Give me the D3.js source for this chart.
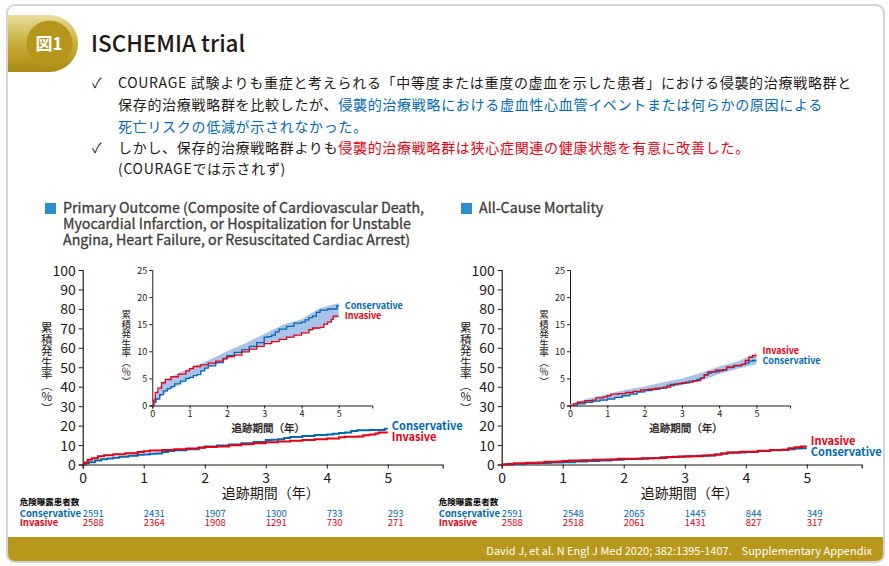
<!DOCTYPE html>
<html><head><meta charset="utf-8">
<script src="https://cdn.jsdelivr.net/npm/d3@7"></script>
<style>
body{margin:0;background:#fff;}
svg{display:block;font-family:'Noto Sans CJK JP','Noto Sans',sans-serif;}
</style></head>
<body>
<svg id="c" width="889" height="566"></svg>
<script>
// ---------- DATA ----------
const yearTicks = [0,1,2,3,4,5];
const mainYTicks = [0,10,20,30,40,50,60,70,80,90,100];
const insetYTicks = [0,5,10,15,20,25];

const primaryConservative = [[0,0],[0.05,0.6],[0.1,1.2],[0.2,2.0],[0.3,2.7],[0.4,3.1],[0.5,3.5],[0.6,4.0],[0.75,4.5],[0.9,5.0],[1.0,5.2],[1.1,5.5],[1.2,5.7],[1.3,6.4],[1.4,6.9],[1.5,7.3],[1.7,7.9],[1.9,8.7],[2.0,9.2],[2.2,9.8],[2.4,10.3],[2.6,10.9],[2.8,11.6],[3.0,12.6],[3.1,12.7],[3.2,13.0],[3.3,13.6],[3.4,14.1],[3.6,14.6],[3.8,15.2],[4.0,15.4],[4.1,15.8],[4.2,16.2],[4.3,16.5],[4.4,17.2],[4.5,17.6],[4.7,17.8],[4.9,17.8],[4.95,18.4],[5.0,18.4]];
const primaryInvasive = [[0,0],[0.03,1.0],[0.08,2.4],[0.15,3.2],[0.25,4.2],[0.35,4.8],[0.5,5.3],[0.7,5.8],[0.9,6.4],[1.0,6.8],[1.1,7.2],[1.3,7.5],[1.5,7.8],[1.7,8.2],[1.9,8.6],[2.0,9.0],[2.2,9.3],[2.4,9.9],[2.6,10.4],[2.8,10.9],[3.0,11.4],[3.2,11.8],[3.4,12.2],[3.6,12.6],[3.8,13.0],[4.0,13.4],[4.2,14.0],[4.3,14.3],[4.5,14.4],[4.6,15.0],[4.7,15.4],[4.8,15.9],[4.85,16.5],[5.0,16.5]];
const primaryBandT    = [0,0.25,0.5,1,1.5,2,2.5,3,3.5,4,4.5,5];
const primaryBandLow  = [0,1.8,3.1,4.9,6.9,8.5,9.9,11.2,12.1,13.2,14.3,16.4];
const primaryBandHigh = [0.6,4.0,5.3,6.9,8.3,10.0,11.5,13.2,14.9,15.9,18.0,18.9];

const mortalityConservative = [[0,0],[0.2,0.3],[0.4,0.6],[0.6,0.8],[0.8,1.0],[1.0,1.2],[1.2,1.5],[1.4,1.8],[1.6,2.1],[1.8,2.5],[2.0,2.8],[2.2,3.0],[2.4,3.2],[2.6,3.7],[2.8,4.0],[3.0,4.2],[3.2,4.5],[3.4,4.8],[3.5,5.1],[3.6,5.6],[3.7,6.0],[3.8,6.2],[4.0,6.4],[4.1,6.6],[4.2,7.0],[4.4,7.3],[4.6,7.6],[4.7,7.8],[4.8,8.2],[4.9,8.3],[5.0,8.3]];
const mortalityInvasive = [[0,0],[0.1,0.3],[0.2,0.6],[0.4,0.9],[0.6,1.0],[0.7,1.4],[0.9,1.6],[1.0,1.8],[1.1,2.1],[1.3,2.2],[1.5,2.4],[1.7,2.6],[1.9,2.9],[2.1,3.0],[2.3,3.2],[2.5,3.4],[2.7,3.9],[2.9,4.1],[3.1,4.3],[3.3,4.6],[3.5,5.1],[3.6,5.7],[3.7,6.2],[3.9,6.5],[4.1,6.6],[4.2,7.1],[4.4,7.4],[4.6,7.6],[4.7,8.3],[4.8,8.9],[4.9,9.2],[5.0,9.2]];
const mortalityBandT    = [0,0.5,1,1.5,2,2.5,3,3.5,4,4.5,5];
const mortalityBandLow  = [0,0.4,1.0,1.8,2.4,3.0,3.8,4.5,5.8,6.8,7.6];
const mortalityBandHigh = [0.3,1.3,2.1,2.9,3.5,4.3,5.0,6.0,7.2,8.1,9.8];

const atRiskPrimaryConservative = [2591,2431,1907,1300,733,293];
const atRiskPrimaryInvasive     = [2588,2364,1908,1291,730,271];
const atRiskMortalityConservative = [2591,2548,2065,1445,844,349];
const atRiskMortalityInvasive     = [2588,2518,2061,1431,827,317];

// ---------- STYLE ----------
const BLUE = '#0068b7', RED = '#e60012', INK = '#231815', GOLD = '#b8981a', BAND = '#a9c3e8';
const svg = d3.select('#c');

// frame
svg.append('rect').attr('x',7).attr('y',5).attr('width',877).attr('height',557).attr('rx',8)
  .attr('fill','#fff').attr('stroke','#d4d4d4').attr('stroke-width',2);
// footer
svg.append('path').attr('d','M8,537 H883 V554 Q883,561 876,561 H15 Q8,561 8,554 Z').attr('fill',GOLD);
svg.append('text').attr('x',872).attr('y',555).attr('text-anchor','end').attr('fill','#fff')
  .attr('font-size',11).attr('xml:space','preserve')
  .text('David J, et al. N Engl J Med 2020; 382:1395-1407.    Supplementary Appendix');

// badge
const defs = svg.append('defs');
const g1 = defs.append('linearGradient').attr('id','gb').attr('x1',0).attr('y1',0).attr('x2',0).attr('y2',1);
g1.append('stop').attr('offset',0).attr('stop-color','#e9dc9c');
g1.append('stop').attr('offset',0.5).attr('stop-color','#c8ad3a');
g1.append('stop').attr('offset',1).attr('stop-color','#a88b12');
svg.append('path').attr('d','M8,15 H49 V72 H8 Z').attr('fill','url(#gb)');
svg.append('circle').attr('cx',49.5).attr('cy',43.5).attr('r',28.5).attr('fill','url(#gb)');
svg.append('circle').attr('cx',49.5).attr('cy',43.5).attr('r',23).attr('fill','#b4961a');
svg.append('text').attr('x',49).attr('y',50).attr('text-anchor','middle').attr('fill','#fff')
  .attr('font-size',17).attr('font-weight',700).text('図1');
svg.append('text').attr('x',91).attr('y',52).attr('fill',INK).attr('font-size',22.5).attr('font-weight',500)
  .text('ISCHEMIA trial');

// bullets
const lines = [
  {y:88, check:true, parts:[['COURAGE 試験よりも重症と考えられる「中等度または重度の虚血を示した患者」における侵襲的治療戦略群と',INK]]},
  {y:110, parts:[['保存的治療戦略群を比較したが、',INK],['侵襲的治療戦略における虚血性心血管イベントまたは何らかの原因による',BLUE]]},
  {y:132, parts:[['死亡リスクの低減が示されなかった。',BLUE]]},
  {y:153, check:true, parts:[['しかし、保存的治療戦略群よりも',INK],['侵襲的治療戦略群は狭心症関連の健康状態を有意に改善した。',RED]]},
  {y:174, parts:[['(COURAGEでは示されず)',INK]]}
];
lines.forEach(l=>{
  if(l.check) svg.append('text').attr('x',92).attr('y',l.y).attr('font-size',14).attr('fill',INK).text('✓');
  const t = svg.append('text').attr('x',118).attr('y',l.y).attr('font-size',14).attr('fill',INK)
    .style('letter-spacing','0.7px');
  l.parts.forEach(p=>t.append('tspan').attr('fill',p[1]).text(p[0]));
});

// chart titles
function chartTitle(x, y, rows){
  svg.append('rect').attr('x',x).attr('y',y-8).attr('width',11).attr('height',11).attr('fill','#2f8fcb');
  rows.forEach((r,i)=>svg.append('text').attr('x',x+18).attr('y',y+2+i*16).attr('font-size',14.2)
    .attr('font-weight',400).attr('fill','#3e3a39').attr('stroke','#3e3a39').attr('stroke-width',0.3).text(r));
}
chartTitle(45,211,['Primary Outcome (Composite of Cardiovascular Death,','Myocardial Infarction, or Hospitalization for Unstable','Angina, Heart Failure, or Resuscitated Cardiac Arrest)']);
chartTitle(461,211,['All-Cause Mortality']);

function vertLabel(x, y, size, weight, txt){
  svg.append('text').attr('x',x).attr('y',y).attr('font-size',size).attr('font-weight',weight)
    .attr('fill',INK).style('writing-mode','vertical-rl').style('text-orientation','upright')
    .attr('text-anchor','middle').text(txt);
}

function panel(o){
  const x = d3.scaleLinear().domain([0,5.9]).range([o.x0, o.x0+360]);
  const y = d3.scaleLinear().domain([0,100]).range([464.5,270]);
  const gx = svg.append('g').attr('transform',`translate(0,${y(0)})`)
    .call(d3.axisBottom(x).tickValues(yearTicks).tickSize(4).tickPadding(3).tickFormat(d3.format('d')));
  const gy = svg.append('g').attr('transform',`translate(${x(0)},0)`)
    .call(d3.axisLeft(y).tickValues(mainYTicks).tickSize(4).tickPadding(3));
  [gx,gy].forEach(g=>{
    g.select('.domain').attr('stroke',INK).attr('stroke-width',1.2);
    g.selectAll('.tick line').attr('stroke',INK);
    g.selectAll('.tick text').attr('fill',INK).attr('font-size',14).style('font-family',"'Noto Sans CJK JP'");
  });
  gy.selectAll('.tick text').attr('dy','0.36em');
  gx.selectAll('.tick text').attr('dy','0.8em');
  const line = d3.line().x(d=>x(d[0])).y(d=>y(d[1])).curve(d3.curveStepAfter);
  o.order.forEach(s=>{
    svg.append('path').datum(s.data).attr('d',line).attr('fill','none').attr('stroke',s.color).attr('stroke-width',2);
  });
  o.mainLabels.forEach((l,i)=>svg.append('text').attr('x',x(5)+4).attr('y',o.mainLabelY+i*10.5)
    .attr('font-size',11).attr('font-weight',700).attr('fill',l[1]).text(l[0]));
  vertLabel(o.x0-36, 368, 11.5, 400, '累積発生率（％）');
  svg.append('text').attr('x',o.x0+188).attr('y',498).attr('text-anchor','middle').attr('font-size',14)
    .attr('fill',INK).text('追跡期間（年）');

  // inset
  const ix = d3.scaleLinear().domain([0,5.9]).range([o.ix0, o.ix0+220]);
  const iy = d3.scaleLinear().domain([0,25]).range([405.5,270]);
  const ax = svg.append('g').attr('transform',`translate(0,${iy(0)})`)
    .call(d3.axisBottom(ix).tickValues(yearTicks).tickSize(3).tickPadding(2).tickFormat(d3.format('d')));
  const ay = svg.append('g').attr('transform',`translate(${ix(0)},0)`)
    .call(d3.axisLeft(iy).tickValues(insetYTicks).tickSize(3).tickPadding(2));
  [ax,ay].forEach(g=>{
    g.select('.domain').attr('stroke',INK).attr('stroke-width',1);
    g.selectAll('.tick line').attr('stroke',INK);
    g.selectAll('.tick text').attr('fill',INK).attr('font-size',9).style('font-family',"'Noto Sans CJK JP'");
  });
  ay.selectAll('.tick text').attr('dy','0.36em');
  const band = d3.area().x((d,i)=>ix(o.bandT[i])).y0(d=>iy(d[0])).y1(d=>iy(d[1])).curve(d3.curveLinear);
  svg.append('path').datum(o.bandLow.map((v,i)=>[v,o.bandHigh[i]])).attr('d',band).attr('fill',BAND);
  const iline = d3.line().x(d=>ix(d[0])).y(d=>iy(d[1])).curve(d3.curveStepAfter);
  o.order.forEach(s=>{
    svg.append('path').datum(s.data).attr('d',iline).attr('fill','none').attr('stroke',s.color).attr('stroke-width',1.3);
  });
  o.insetLabels.forEach((l,i)=>svg.append('text').attr('x',ix(5)+6).attr('y',o.insetLabelY+i*10)
    .attr('font-size',9).attr('font-weight',700).attr('fill',l[1]).text(l[0]));
  vertLabel(o.ix0-26, 348, 9.5, 400, '累積発生率（％）');
  svg.append('text').attr('x',ix(0)+116).attr('y',432).attr('text-anchor','middle').attr('font-size',10.5)
    .attr('fill',INK).attr('stroke',INK).attr('stroke-width',0.3).text('追跡期間（年）');

  // at-risk table
  const tx = o.x0 - 63;
  svg.append('text').attr('x',tx).attr('y',505).attr('font-size',8.5).attr('font-weight',700).attr('fill','#000').text('危険曝露患者数');
  [[ 'Conservative', BLUE, o.riskC, 516.5],['Invasive', RED, o.riskI, 526]].forEach(r=>{
    svg.append('text').attr('x',tx).attr('y',r[3]).attr('font-size',9.5).attr('font-weight',700).attr('fill',r[1]).text(r[0]);
    r[2].forEach((v,i)=>svg.append('text').attr('x',x(yearTicks[i])).attr('y',r[3]).attr('font-size',9.5)
      .attr('fill',r[1]).text(v));
  });
}

panel({x0:82.7, ix0:152.3,
  order:[{data:primaryConservative,color:BLUE},{data:primaryInvasive,color:RED}],
  bandT:primaryBandT, bandLow:primaryBandLow, bandHigh:primaryBandHigh,
  mainLabels:[['Conservative',BLUE],['Invasive',RED]], mainLabelY:430,
  insetLabels:[['Conservative',BLUE],['Invasive',RED]], insetLabelY:309,
  riskC:atRiskPrimaryConservative, riskI:atRiskPrimaryInvasive});
panel({x0:501.7, ix0:570,
  order:[{data:mortalityConservative,color:BLUE},{data:mortalityInvasive,color:RED}],
  bandT:mortalityBandT, bandLow:mortalityBandLow, bandHigh:mortalityBandHigh,
  mainLabels:[['Invasive',RED],['Conservative',BLUE]], mainLabelY:445,
  insetLabels:[['Invasive',RED],['Conservative',BLUE]], insetLabelY:354,
  riskC:atRiskMortalityConservative, riskI:atRiskMortalityInvasive});
</script>
</body></html>
